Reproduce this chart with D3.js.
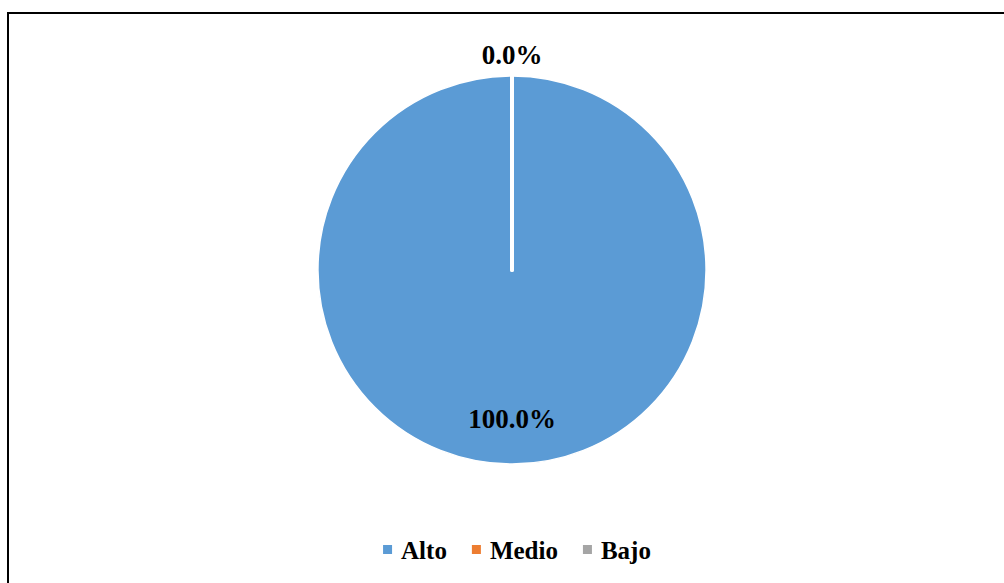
<!DOCTYPE html>
<html>
<head>
<meta charset="utf-8">
<script src="https://cdn.jsdelivr.net/npm/d3@7"></script>
<style>
html,body{margin:0;padding:0;background:#fff;}
svg{display:block;}
</style>
</head>
<body>
<svg id="chart" width="1004" height="583"></svg>
<script>
const categories = ["Alto", "Medio", "Bajo"];
const values = [100.0, 0.0, 0.0];
const colors = ["#5B9BD5", "#ED7D31", "#A5A5A5"];

const svg = d3.select("#chart");
const font = "'Liberation Serif','Times New Roman',serif";

svg.append("rect").attr("x", 8).attr("y", 13).attr("width", 1100).attr("height", 700)
  .attr("fill", "none").attr("stroke", "#000").attr("stroke-width", 2);

const cx = 512, cy = 270, R = 194;
const g = svg.append("g").attr("transform", `translate(${cx},${cy})`);

const data = categories.map((c, i) => ({cat: c, value: values[i], color: colors[i]}));
const pie = d3.pie().sort(null).value(d => d.value);
const arcs = pie(data);
const arc = d3.arc().innerRadius(0).outerRadius(R);

g.selectAll("path.slice").data(arcs).enter().append("path")
  .attr("class", "slice")
  .attr("d", arc)
  .attr("fill", d => d.data.color)
  .attr("stroke", "#fff")
  .attr("stroke-width", d => d.data.value === 0 ? 4 : 1.5)
  .attr("stroke-linejoin", "round");

const total = d3.sum(values);
const fmt = v => (v / total * 100).toFixed(1) + "%";
const inArc = d3.arc().innerRadius(R * 0.77).outerRadius(R * 0.77);
const outArc = d3.arc().innerRadius(R * 1.11).outerRadius(R * 1.11);
const labelled = [arcs[0], arcs[1]];
g.selectAll("text.lbl").data(labelled).enter().append("text")
  .attr("class", "lbl")
  .attr("transform", d => {
    const a = d.data.value === 0 ? outArc : inArc;
    const [x, y] = a.centroid(d);
    return `translate(${x},${y})`;
  })
  .attr("text-anchor", "middle")
  .attr("dominant-baseline", "central")
  .style("font-family", font)
  .style("font-weight", "bold")
  .style("font-size", "27px")
  .attr("fill", "#000")
  .text(d => fmt(d.data.value));

const leg = svg.append("g");
const items = leg.selectAll("g").data(data).enter().append("g");
items.append("rect").attr("width", 9).attr("height", 9).attr("y", -5).attr("fill", d => d.color);
items.append("text").attr("x", 18).attr("y", 0)
  .attr("dominant-baseline", "central")
  .style("font-family", font).style("font-weight", "bold").style("font-size", "25px")
  .attr("fill", "#000").text(d => d.cat);
let xo = 0;
items.each(function() {
  const w = this.getBBox().width;
  d3.select(this).attr("transform", `translate(${xo},0)`);
  xo += w + 25;
});
const totalW = xo - 25;
leg.attr("transform", `translate(${517 - totalW / 2},550)`);
</script>
</body>
</html>
